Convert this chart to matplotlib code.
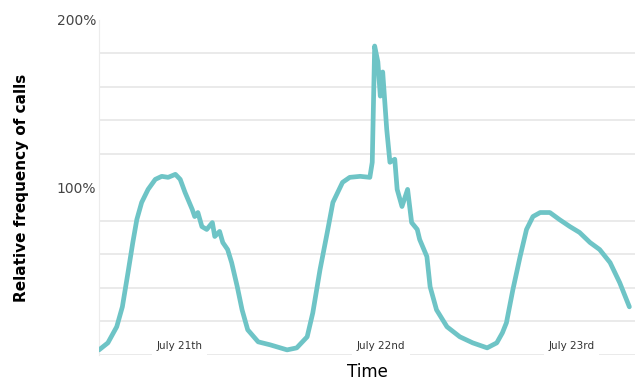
import matplotlib.pyplot as plt

# hours since start of trace, relative call frequency in %
hours = [0.0, 1.1, 2.2, 2.9, 3.6, 4.2, 4.7, 5.3, 6.1, 7.0, 7.8, 8.6, 9.5, 10.1,
         10.7, 11.6, 11.9, 12.3, 12.8, 13.4, 14.1, 14.4, 15.0, 15.4, 16.0, 16.5,
         17.2, 17.8, 18.5, 19.8, 21.3, 23.4, 24.6, 25.9, 26.6, 27.5, 28.4, 29.1,
         30.3, 31.2, 32.5, 33.7, 34.0, 34.3, 34.7, 35.0, 35.3, 35.8, 36.2, 36.8,
         37.1, 37.7, 38.4, 38.9, 39.6, 39.9, 40.8, 41.2, 42.0, 43.3, 44.9, 46.5,
         48.3, 49.5, 50.2, 50.7, 51.5, 52.4, 53.2, 54.0, 54.9, 56.1, 57.3, 58.6,
         59.8, 61.1, 62.3, 63.6, 64.8, 66.0]
freq = [3.0, 7.2, 16.8, 28.7, 49.1, 67.1, 80.8, 91.0, 98.8, 104.8, 106.6, 106.0,
        107.8, 104.8, 97.0, 86.8, 82.6, 85.0, 76.6, 74.9, 79.0, 70.7, 73.7, 67.1,
        62.9, 55.1, 40.7, 26.9, 15.0, 7.8, 6.0, 3.0, 4.2, 10.8, 25.1, 50.9, 73.1,
        91.0, 103.0, 106.0, 106.6, 106.0, 115.0, 184.4, 174.9, 154.5, 168.9, 134.7,
        115.0, 116.8, 98.8, 88.6, 98.8, 79.0, 74.9, 68.9, 58.7, 40.7, 26.9, 16.8,
        10.8, 7.2, 4.2, 7.2, 13.2, 19.2, 38.9, 58.7, 74.9, 82.6, 85.0, 85.0, 80.8,
        76.6, 73.1, 67.1, 62.9, 55.1, 43.1, 28.7]

day_labels = ["July 21th", "July 22nd", "July 23rd"]
day_pos = [10.0, 35.1, 58.8]

fig = plt.figure(figsize=(6.35, 3.9), dpi=100)
ax = fig.add_axes([0.156, 0.09, 0.844, 0.859])

ax.set_yticks(range(0, 201, 20), minor=True)
ax.grid(True, which="minor", axis="y", color="#e6e6e6", linewidth=1.2)
ax.set_axisbelow(True)

for lab, x in zip(day_labels, day_pos):
    ax.text(x, 5.5, lab, ha="center", va="center", fontsize=7.5, color="#333333",
            bbox=dict(facecolor="white", edgecolor="none", pad=3.5), zorder=1.5)

ax.plot(hours, freq, color="#6ec4c6", linewidth=3.4, solid_joinstyle="round",
        solid_capstyle="round", zorder=3)

ax.set_xlim(0, 66.7)
ax.set_ylim(0, 200)
ax.set_yticks([100, 200])
ax.set_yticklabels(["100%", "200%"], fontsize=10, color="#444444")
ax.set_xticks([])
ax.tick_params(axis="y", which="both", length=0, pad=2)
for s in ["top", "right", "bottom"]:
    ax.spines[s].set_visible(False)
ax.spines["left"].set_color("#ececec")

ax.set_ylabel("Relative frequency of calls", fontsize=11, fontweight="bold", labelpad=20)
ax.set_xlabel("Time", fontsize=12, labelpad=6)

fig.savefig("out.png", dpi=100)
